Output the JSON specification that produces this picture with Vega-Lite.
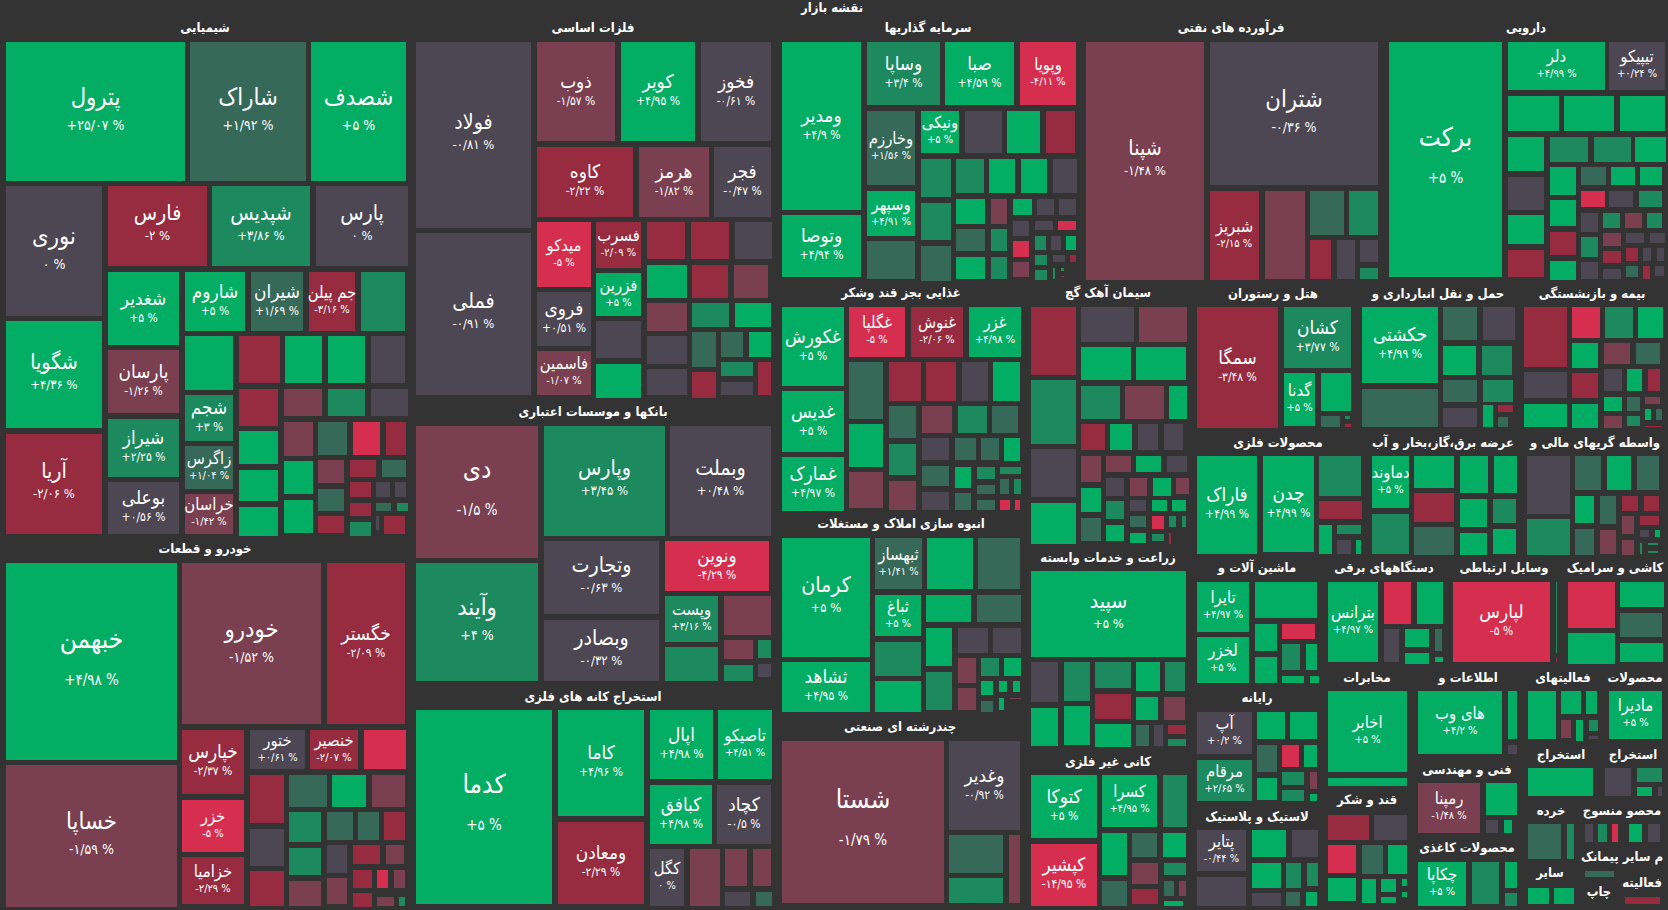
{"$schema":"https://vega.github.io/schema/vega-lite/v6.json","width":1668,"height":910,"padding":0,"autosize":{"type":"none"},"background":"#333333","config":{"view":{"stroke":null}},
"datasets":{"sectors":[
{"t":"نقشه بازار","x":832,"y":8},{"t":"شیمیایی","x":205,"y":28},{"t":"فلزات اساسی","x":593,"y":28},{"t":"سرمایه گذاریها","x":928,"y":28},{"t":"فرآورده های نفتی","x":1231,"y":28},{"t":"دارویی","x":1526,"y":28},
{"t":"غذایی بجز قند وشکر","x":901,"y":293},{"t":"سیمان آهک گچ","x":1108,"y":293},{"t":"هتل و رستوران","x":1273,"y":294},{"t":"حمل و نقل انبارداری و","x":1438,"y":294},{"t":"بیمه و بازنشستگی","x":1592,"y":294},
{"t":"بانکها و موسسات اعتباری","x":593,"y":412},{"t":"محصولات فلزی","x":1278,"y":443},{"t":"عرضه برق،گاز،بخار و آب","x":1443,"y":443},{"t":"واسطه گریهای مالی و","x":1595,"y":443},
{"t":"انبوه سازی املاک و مستغلات","x":901,"y":524},{"t":"خودرو و قطعات","x":205,"y":549},{"t":"زراعت و خدمات وابسته","x":1108,"y":558},{"t":"ماشین آلات و","x":1257,"y":568},{"t":"دستگاههای برقی","x":1384,"y":568},{"t":"وسایل ارتباطی","x":1504,"y":568},{"t":"کاشی و سرامیک","x":1615,"y":568},
{"t":"مخابرات","x":1367,"y":678},{"t":"اطلاعات و","x":1468,"y":678},{"t":"فعالیتهای","x":1563,"y":678},{"t":"محصولات","x":1635,"y":678},{"t":"استخراج کانه های فلزی","x":593,"y":697},{"t":"رایانه","x":1257,"y":698},{"t":"چندرشته ای صنعتی","x":900,"y":727},
{"t":"استخراج","x":1561,"y":755},{"t":"استخراج","x":1633,"y":755},{"t":"کانی غیر فلزی","x":1108,"y":762},{"t":"فنی و مهندسی","x":1467,"y":770},{"t":"قند و شکر","x":1367,"y":800},{"t":"خرده","x":1551,"y":811},{"t":"محصو منسوج","x":1622,"y":811},{"t":"لاستیک و پلاستیک","x":1257,"y":817},{"t":"محصولات کاغذی","x":1467,"y":848},{"t":"م سایر پیمانک","x":1622,"y":857},{"t":"سایر","x":1550,"y":873},{"t":"فعالیته","x":1642,"y":883},{"t":"چاپ","x":1599,"y":892}],
"tiles":[
{"x0":6,"x1":185,"y0":42,"y1":181,"chg":25.07,"sym":"پترول","pct":"+۲۵/۰۷ %","tier":"b"},{"x0":190,"x1":306,"y0":42,"y1":181,"chg":1.92,"sym":"شاراک","pct":"+۱/۹۲ %","tier":"b"},{"x0":311,"x1":406,"y0":42,"y1":181,"chg":5,"sym":"شصدف","pct":"+۵ %","tier":"b"},
{"x0":6,"x1":102,"y0":186,"y1":316,"chg":0,"sym":"نوری","pct":"۰ %","tier":"b"},{"x0":108,"x1":207,"y0":186,"y1":266,"chg":-2,"sym":"فارس","pct":"-۲ %","tier":"c"},{"x0":212,"x1":310,"y0":186,"y1":266,"chg":3.86,"sym":"شپدیس","pct":"+۳/۸۶ %","tier":"c"},{"x0":316,"x1":408,"y0":186,"y1":266,"chg":0,"sym":"پارس","pct":"۰ %","tier":"c"},
{"x0":108,"x1":179,"y0":272,"y1":345,"chg":5,"sym":"شغدیر","pct":"+۵ %","tier":"d"},{"x0":185,"x1":245,"y0":272,"y1":331,"chg":5,"sym":"شاروم","pct":"+۵ %","tier":"d"},{"x0":251,"x1":303,"y0":272,"y1":331,"chg":1.69,"sym":"شیران","pct":"+۱/۶۹ %","tier":"d"},{"x0":309,"x1":355,"y0":272,"y1":331,"chg":-3.16,"sym":"جم پیلن","pct":"-۳/۱۶ %","tier":"e"},{"x0":361,"x1":405,"y0":272,"y1":331,"chg":3},
{"x0":6,"x1":102,"y0":321,"y1":428,"chg":4.36,"sym":"شگویا","pct":"+۴/۳۶ %","tier":"c"},{"x0":6,"x1":102,"y0":434,"y1":534,"chg":-2.06,"sym":"آریا","pct":"-۲/۰۶ %","tier":"c"},{"x0":108,"x1":179,"y0":350,"y1":413,"chg":-1.26,"sym":"پارسان","pct":"-۱/۲۶ %","tier":"d"},{"x0":108,"x1":179,"y0":419,"y1":477,"chg":2.25,"sym":"شیراز","pct":"+۲/۲۵ %","tier":"d"},{"x0":108,"x1":179,"y0":482,"y1":534,"chg":0.56,"sym":"بوعلی","pct":"+۰/۵۶ %","tier":"d"},
{"x0":185,"x1":233,"y0":336,"y1":390,"chg":4.9},{"x0":185,"x1":233,"y0":395,"y1":441,"chg":3,"sym":"شجم","pct":"+۳ %","tier":"d"},{"x0":185,"x1":233,"y0":446,"y1":489,"chg":1.04,"sym":"زاگرس","pct":"+۱/۰۴ %","tier":"e"},{"x0":185,"x1":233,"y0":494,"y1":534,"chg":-1.42,"sym":"خراسان","pct":"-۱/۴۲ %","tier":"e"},
{"x0":239,"x1":280,"y0":336,"y1":383,"chg":-3},{"x0":285,"x1":322,"y0":336,"y1":383,"chg":4.9},{"x0":328,"x1":365,"y0":336,"y1":383,"chg":4.9},{"x0":371,"x1":405,"y0":336,"y1":383,"chg":0.2},{"x0":239,"x1":278,"y0":389,"y1":426,"chg":-3},{"x0":284,"x1":322,"y0":389,"y1":416,"chg":-1.5},{"x0":328,"x1":365,"y0":389,"y1":416,"chg":3},{"x0":371,"x1":408,"y0":389,"y1":416,"chg":0.2},{"x0":239,"x1":278,"y0":431,"y1":464,"chg":4.9},{"x0":239,"x1":278,"y0":470,"y1":501,"chg":4.9},{"x0":239,"x1":278,"y0":507,"y1":536,"chg":4.9},
{"x0":284,"x1":313,"y0":422,"y1":456,"chg":-1.5},{"x0":318,"x1":347,"y0":422,"y1":455,"chg":1.5},{"x0":353,"x1":380,"y0":422,"y1":455,"chg":-5},{"x0":386,"x1":406,"y0":422,"y1":455,"chg":-3},{"x0":284,"x1":313,"y0":461,"y1":494,"chg":4.9},{"x0":284,"x1":313,"y0":500,"y1":533,"chg":4.9},{"x0":318,"x1":344,"y0":460,"y1":483,"chg":-1.5},{"x0":318,"x1":344,"y0":489,"y1":511,"chg":1.5},{"x0":318,"x1":344,"y0":516,"y1":533,"chg":-3},{"x0":350,"x1":376,"y0":460,"y1":477,"chg":-3},{"x0":382,"x1":406,"y0":460,"y1":477,"chg":1.5},{"x0":350,"x1":371,"y0":482,"y1":497,"chg":-3},{"x0":376,"x1":390,"y0":482,"y1":497,"chg":0.2},{"x0":395,"x1":406,"y0":482,"y1":497,"chg":0.2},{"x0":350,"x1":371,"y0":503,"y1":516,"chg":-3},{"x0":376,"x1":391,"y0":503,"y1":511,"chg":1.5},{"x0":397,"x1":408,"y0":503,"y1":511,"chg":3},{"x0":376,"x1":379,"y0":516,"y1":530,"chg":0.2},{"x0":384,"x1":405,"y0":516,"y1":534,"chg":-3},{"x0":350,"x1":371,"y0":522,"y1":536,"chg":3},
{"x0":6,"x1":177,"y0":563,"y1":760,"chg":4.98,"sym":"خبهمن","pct":"+۴/۹۸ %","tier":"a"},{"x0":6,"x1":177,"y0":765,"y1":907,"chg":-1.59,"sym":"خساپا","pct":"-۱/۵۹ %","tier":"b"},{"x0":182,"x1":321,"y0":563,"y1":724,"chg":-1.52,"sym":"خودرو","pct":"-۱/۵۲ %","tier":"b"},{"x0":327,"x1":405,"y0":563,"y1":724,"chg":-2.09,"sym":"خگستر","pct":"-۲/۰۹ %","tier":"d"},{"x0":182,"x1":244,"y0":730,"y1":794,"chg":-2.37,"sym":"خپارس","pct":"-۲/۳۷ %","tier":"d"},{"x0":250,"x1":305,"y0":730,"y1":769,"chg":0.61,"sym":"ختور","pct":"+۰/۶۱ %","tier":"e"},{"x0":310,"x1":358,"y0":730,"y1":769,"chg":-2.07,"sym":"خنصیر","pct":"-۲/۰۷ %","tier":"e"},{"x0":364,"x1":406,"y0":730,"y1":769,"chg":-5},{"x0":182,"x1":244,"y0":800,"y1":852,"chg":-5,"sym":"خزر","pct":"-۵ %","tier":"e"},{"x0":182,"x1":244,"y0":857,"y1":904,"chg":-2.29,"sym":"خزامیا","pct":"-۲/۲۹ %","tier":"e"},
{"x0":250,"x1":284,"y0":775,"y1":823,"chg":-3},{"x0":289,"x1":327,"y0":775,"y1":807,"chg":1.5},{"x0":332,"x1":366,"y0":775,"y1":807,"chg":4.9},{"x0":372,"x1":405,"y0":775,"y1":807,"chg":-1.5},{"x0":250,"x1":284,"y0":829,"y1":866,"chg":0.2},{"x0":250,"x1":284,"y0":871,"y1":906,"chg":-3},{"x0":289,"x1":321,"y0":812,"y1":842,"chg":3},{"x0":327,"x1":353,"y0":812,"y1":840,"chg":1.5},{"x0":358,"x1":379,"y0":812,"y1":840,"chg":1.5},{"x0":384,"x1":405,"y0":812,"y1":840,"chg":-3},{"x0":289,"x1":321,"y0":848,"y1":875,"chg":3},{"x0":289,"x1":321,"y0":881,"y1":906,"chg":-1.5},{"x0":327,"x1":347,"y0":845,"y1":873,"chg":0.2},{"x0":327,"x1":347,"y0":878,"y1":904,"chg":-1.5},{"x0":353,"x1":380,"y0":845,"y1":864,"chg":-3},{"x0":386,"x1":404,"y0":845,"y1":864,"chg":-1.5},{"x0":353,"x1":372,"y0":870,"y1":888,"chg":-3},{"x0":377,"x1":388,"y0":870,"y1":888,"chg":-5},{"x0":394,"x1":405,"y0":870,"y1":888,"chg":-1.5},{"x0":353,"x1":372,"y0":893,"y1":907,"chg":-3},{"x0":377,"x1":394,"y0":897,"y1":906,"chg":-1.5},{"x0":399,"x1":405,"y0":897,"y1":906,"chg":3},
{"x0":416,"x1":531,"y0":42,"y1":228,"chg":-0.81,"sym":"فولاد","pct":"-۰/۸۱ %","tier":"c"},{"x0":416,"x1":531,"y0":233,"y1":395,"chg":-0.91,"sym":"فملی","pct":"-۰/۹۱ %","tier":"c"},{"x0":537,"x1":615,"y0":42,"y1":141,"chg":-1.57,"sym":"ذوب","pct":"-۱/۵۷ %","tier":"d"},{"x0":621,"x1":695,"y0":42,"y1":141,"chg":4.95,"sym":"کویر","pct":"+۴/۹۵ %","tier":"d"},{"x0":701,"x1":771,"y0":42,"y1":141,"chg":-0.61,"sym":"فخوز","pct":"-۰/۶۱ %","tier":"d"},{"x0":537,"x1":633,"y0":147,"y1":217,"chg":-2.22,"sym":"کاوه","pct":"-۲/۲۲ %","tier":"d"},{"x0":639,"x1":709,"y0":147,"y1":217,"chg":-1.82,"sym":"هرمز","pct":"-۱/۸۲ %","tier":"d"},{"x0":714,"x1":771,"y0":147,"y1":217,"chg":-0.47,"sym":"فجر","pct":"-۰/۴۷ %","tier":"d"},
{"x0":537,"x1":591,"y0":222,"y1":287,"chg":-5,"sym":"میدکو","pct":"-۵ %","tier":"e"},{"x0":537,"x1":591,"y0":292,"y1":346,"chg":0.51,"sym":"فروی","pct":"+۰/۵۱ %","tier":"d"},{"x0":537,"x1":591,"y0":351,"y1":395,"chg":-1.07,"sym":"فاسمین","pct":"-۱/۰۷ %","tier":"e"},{"x0":596,"x1":641,"y0":222,"y1":268,"chg":-2.09,"sym":"فسرب","pct":"-۲/۰۹ %","tier":"e"},{"x0":596,"x1":641,"y0":273,"y1":316,"chg":5,"sym":"فزرین","pct":"+۵ %","tier":"e"},{"x0":596,"x1":641,"y0":321,"y1":358,"chg":0.2},{"x0":596,"x1":641,"y0":364,"y1":398,"chg":4.9},
{"x0":647,"x1":685,"y0":222,"y1":259,"chg":-3},{"x0":691,"x1":729,"y0":222,"y1":259,"chg":-3},{"x0":735,"x1":772,"y0":222,"y1":259,"chg":0.2},{"x0":647,"x1":687,"y0":265,"y1":298,"chg":4.9},{"x0":692,"x1":728,"y0":265,"y1":298,"chg":-3},{"x0":734,"x1":768,"y0":265,"y1":298,"chg":-1.5},{"x0":647,"x1":687,"y0":303,"y1":331,"chg":-1.5},{"x0":647,"x1":687,"y0":336,"y1":364,"chg":0.2},{"x0":647,"x1":687,"y0":369,"y1":395,"chg":0.2},{"x0":692,"x1":729,"y0":303,"y1":327,"chg":3},{"x0":735,"x1":771,"y0":303,"y1":327,"chg":4.9},{"x0":692,"x1":716,"y0":332,"y1":367,"chg":1.5},{"x0":692,"x1":716,"y0":372,"y1":398,"chg":-3},{"x0":721,"x1":743,"y0":332,"y1":357,"chg":1.5},{"x0":749,"x1":771,"y0":332,"y1":357,"chg":4.9},{"x0":721,"x1":753,"y0":362,"y1":376,"chg":3},{"x0":721,"x1":753,"y0":382,"y1":395,"chg":0.2},{"x0":758,"x1":771,"y0":362,"y1":395,"chg":-3},
{"x0":416,"x1":538,"y0":426,"y1":558,"chg":-1.5,"sym":"دی","pct":"-۱/۵ %","tier":"a"},{"x0":416,"x1":538,"y0":563,"y1":681,"chg":4,"sym":"وآیند","pct":"+۴ %","tier":"b"},{"x0":544,"x1":665,"y0":426,"y1":536,"chg":3.45,"sym":"وپارس","pct":"+۳/۴۵ %","tier":"c"},{"x0":670,"x1":771,"y0":426,"y1":536,"chg":0.48,"sym":"وبملت","pct":"+۰/۴۸ %","tier":"c"},{"x0":544,"x1":659,"y0":541,"y1":614,"chg":-0.63,"sym":"وتجارت","pct":"-۰/۶۳ %","tier":"c"},{"x0":544,"x1":659,"y0":620,"y1":681,"chg":-0.32,"sym":"وبصادر","pct":"-۰/۳۲ %","tier":"c"},{"x0":665,"x1":769,"y0":541,"y1":591,"chg":-4.29,"sym":"ونوین","pct":"-۴/۲۹ %","tier":"d"},{"x0":665,"x1":718,"y0":596,"y1":642,"chg":3.16,"sym":"وپست","pct":"+۳/۱۶ %","tier":"e"},{"x0":665,"x1":718,"y0":647,"y1":681,"chg":3},{"x0":724,"x1":771,"y0":596,"y1":635,"chg":-1.5},{"x0":724,"x1":753,"y0":640,"y1":659,"chg":-1.5},{"x0":758,"x1":771,"y0":640,"y1":658,"chg":3},{"x0":724,"x1":753,"y0":665,"y1":681,"chg":3},{"x0":758,"x1":771,"y0":664,"y1":677,"chg":0.2},
{"x0":416,"x1":552,"y0":710,"y1":904,"chg":5,"sym":"کدما","pct":"+۵ %","tier":"a"},{"x0":558,"x1":644,"y0":710,"y1":816,"chg":4.96,"sym":"کاما","pct":"+۴/۹۶ %","tier":"d"},{"x0":558,"x1":644,"y0":822,"y1":904,"chg":-2.29,"sym":"ومعادن","pct":"-۲/۲۹ %","tier":"d"},{"x0":650,"x1":713,"y0":710,"y1":779,"chg":4.98,"sym":"اپال","pct":"+۴/۹۸ %","tier":"d"},{"x0":718,"x1":772,"y0":710,"y1":779,"chg":4.51,"sym":"تاصیکو","pct":"+۴/۵۱ %","tier":"e"},{"x0":650,"x1":712,"y0":785,"y1":844,"chg":4.98,"sym":"کبافق","pct":"+۴/۹۸ %","tier":"d"},{"x0":717,"x1":771,"y0":785,"y1":844,"chg":-0.5,"sym":"کچاد","pct":"-۰/۵ %","tier":"d"},{"x0":650,"x1":684,"y0":849,"y1":906,"chg":0,"sym":"کگل","pct":"۰ %","tier":"e"},{"x0":690,"x1":720,"y0":849,"y1":906,"chg":-1.5},{"x0":725,"x1":747,"y0":849,"y1":886,"chg":-1.5},{"x0":753,"x1":771,"y0":849,"y1":886,"chg":-1.5},{"x0":725,"x1":750,"y0":892,"y1":906,"chg":0.2},{"x0":756,"x1":772,"y0":892,"y1":906,"chg":1.5},
{"x0":782,"x1":861,"y0":42,"y1":210,"chg":4.9,"sym":"ومدیر","pct":"+۴/۹ %","tier":"d"},{"x0":782,"x1":861,"y0":215,"y1":277,"chg":4.94,"sym":"وتوصا","pct":"+۴/۹۴ %","tier":"d"},{"x0":867,"x1":940,"y0":42,"y1":105,"chg":3.4,"sym":"وساپا","pct":"+۳/۴ %","tier":"d"},{"x0":945,"x1":1014,"y0":42,"y1":105,"chg":4.59,"sym":"صبا","pct":"+۴/۵۹ %","tier":"d"},{"x0":1020,"x1":1076,"y0":42,"y1":105,"chg":-4.11,"sym":"وپویا","pct":"-۴/۱۱ %","tier":"e"},{"x0":867,"x1":915,"y0":111,"y1":185,"chg":1.56,"sym":"وخارزم","pct":"+۱/۵۶ %","tier":"e"},{"x0":867,"x1":915,"y0":191,"y1":236,"chg":4.91,"sym":"وسپهر","pct":"+۴/۹۱ %","tier":"e"},{"x0":867,"x1":915,"y0":241,"y1":279,"chg":1.5},{"x0":921,"x1":959,"y0":111,"y1":153,"chg":5,"sym":"ونیکی","pct":"+۵ %","tier":"e"},
{"x0":965,"x1":1002,"y0":111,"y1":153,"chg":0.2},{"x0":1007,"x1":1040,"y0":111,"y1":153,"chg":4.9},{"x0":1046,"x1":1075,"y0":111,"y1":153,"chg":-3},{"x0":921,"x1":951,"y0":159,"y1":197,"chg":3},{"x0":921,"x1":951,"y0":203,"y1":240,"chg":3},{"x0":921,"x1":951,"y0":246,"y1":281,"chg":1.5},{"x0":956,"x1":984,"y0":159,"y1":193,"chg":3},{"x0":989,"x1":1015,"y0":159,"y1":193,"chg":4.9},{"x0":1021,"x1":1047,"y0":159,"y1":193,"chg":4.9},{"x0":1053,"x1":1077,"y0":159,"y1":193,"chg":0.2},{"x0":956,"x1":985,"y0":199,"y1":224,"chg":4.9},{"x0":991,"x1":1007,"y0":199,"y1":224,"chg":-1.5},{"x0":1013,"x1":1032,"y0":199,"y1":215,"chg":4.9},{"x0":1037,"x1":1054,"y0":199,"y1":215,"chg":0.2},{"x0":1059,"x1":1076,"y0":199,"y1":215,"chg":0.2},{"x0":956,"x1":985,"y0":229,"y1":251,"chg":1.5},{"x0":991,"x1":1007,"y0":229,"y1":251,"chg":3},{"x0":956,"x1":985,"y0":257,"y1":279,"chg":4.9},{"x0":991,"x1":1007,"y0":257,"y1":279,"chg":3},{"x0":1013,"x1":1029,"y0":221,"y1":236,"chg":0.2},{"x0":1035,"x1":1053,"y0":221,"y1":230,"chg":0.2},{"x0":1058,"x1":1076,"y0":221,"y1":230,"chg":-5},{"x0":1013,"x1":1029,"y0":241,"y1":257,"chg":-5},{"x0":1013,"x1":1029,"y0":262,"y1":277,"chg":-1.5},{"x0":1035,"x1":1046,"y0":236,"y1":250,"chg":3},{"x0":1051,"x1":1061,"y0":236,"y1":250,"chg":0.2},{"x0":1066,"x1":1076,"y0":236,"y1":250,"chg":4.9},{"x0":1035,"x1":1047,"y0":255,"y1":265,"chg":3},{"x0":1053,"x1":1065,"y0":255,"y1":262,"chg":0.2},{"x0":1070,"x1":1076,"y0":255,"y1":262,"chg":-3},{"x0":1035,"x1":1047,"y0":270,"y1":280,"chg":3},{"x0":1053,"x1":1055,"y0":268,"y1":279,"chg":3},{"x0":1061,"x1":1064,"y0":268,"y1":271,"chg":3},{"x0":1061,"x1":1064,"y0":276,"y1":277,"chg":-3},
{"x0":782,"x1":844,"y0":307,"y1":386,"chg":5,"sym":"غکورش","pct":"+۵ %","tier":"d"},{"x0":782,"x1":844,"y0":391,"y1":452,"chg":5,"sym":"غدیس","pct":"+۵ %","tier":"d"},{"x0":782,"x1":844,"y0":457,"y1":511,"chg":4.97,"sym":"غمارک","pct":"+۴/۹۷ %","tier":"d"},{"x0":849,"x1":905,"y0":307,"y1":357,"chg":-5,"sym":"غگلپا","pct":"-۵ %","tier":"e"},{"x0":911,"x1":963,"y0":307,"y1":357,"chg":-2.06,"sym":"غنوش","pct":"-۲/۰۶ %","tier":"e"},{"x0":969,"x1":1021,"y0":307,"y1":357,"chg":4.98,"sym":"غزر","pct":"+۴/۹۸ %","tier":"e"},
{"x0":849,"x1":883,"y0":362,"y1":419,"chg":1.5},{"x0":849,"x1":883,"y0":424,"y1":467,"chg":4.9},{"x0":849,"x1":883,"y0":472,"y1":508,"chg":-1.5},{"x0":889,"x1":921,"y0":362,"y1":401,"chg":-3},{"x0":926,"x1":956,"y0":362,"y1":401,"chg":-3},{"x0":962,"x1":988,"y0":362,"y1":401,"chg":0.2},{"x0":993,"x1":1020,"y0":362,"y1":401,"chg":4.9},{"x0":889,"x1":916,"y0":406,"y1":438,"chg":1.5},{"x0":889,"x1":916,"y0":444,"y1":475,"chg":3},{"x0":889,"x1":916,"y0":481,"y1":510,"chg":-1.5},{"x0":922,"x1":952,"y0":406,"y1":433,"chg":-1.5},{"x0":958,"x1":987,"y0":406,"y1":433,"chg":3},{"x0":992,"x1":1018,"y0":406,"y1":433,"chg":1.5},{"x0":922,"x1":949,"y0":438,"y1":460,"chg":0.2},{"x0":955,"x1":976,"y0":438,"y1":460,"chg":1.5},{"x0":981,"x1":999,"y0":438,"y1":460,"chg":1.5},{"x0":1004,"x1":1020,"y0":438,"y1":461,"chg":4.9},{"x0":922,"x1":949,"y0":466,"y1":486,"chg":1.5},{"x0":922,"x1":949,"y0":492,"y1":510,"chg":0.2},{"x0":955,"x1":971,"y0":467,"y1":488,"chg":4.9},{"x0":955,"x1":971,"y0":493,"y1":510,"chg":1.5},{"x0":977,"x1":995,"y0":467,"y1":479,"chg":3},{"x0":1000,"x1":1021,"y0":467,"y1":474,"chg":3},{"x0":977,"x1":995,"y0":485,"y1":494,"chg":1.5},{"x0":1000,"x1":1009,"y0":479,"y1":494,"chg":1.5},{"x0":1014,"x1":1021,"y0":479,"y1":494,"chg":3},{"x0":977,"x1":995,"y0":500,"y1":510,"chg":1.5},{"x0":1000,"x1":1010,"y0":500,"y1":510,"chg":-5},{"x0":1015,"x1":1020,"y0":500,"y1":510,"chg":-5},
{"x0":1031,"x1":1076,"y0":307,"y1":375,"chg":-3},{"x0":1031,"x1":1076,"y0":380,"y1":444,"chg":3},{"x0":1031,"x1":1076,"y0":449,"y1":497,"chg":0.2},{"x0":1031,"x1":1076,"y0":503,"y1":544,"chg":4.9},{"x0":1081,"x1":1134,"y0":307,"y1":342,"chg":0.2},{"x0":1139,"x1":1187,"y0":307,"y1":342,"chg":-1.5},{"x0":1081,"x1":1131,"y0":347,"y1":380,"chg":4.9},{"x0":1136,"x1":1186,"y0":347,"y1":380,"chg":4.9},{"x0":1081,"x1":1120,"y0":386,"y1":419,"chg":3},{"x0":1125,"x1":1164,"y0":386,"y1":419,"chg":-1.5},{"x0":1169,"x1":1187,"y0":386,"y1":419,"chg":4.9},{"x0":1081,"x1":1105,"y0":424,"y1":450,"chg":-3},{"x0":1110,"x1":1132,"y0":424,"y1":450,"chg":4.9},{"x0":1138,"x1":1158,"y0":424,"y1":450,"chg":0.2},{"x0":1164,"x1":1183,"y0":424,"y1":450,"chg":0.2},{"x0":1081,"x1":1101,"y0":456,"y1":482,"chg":-1.5},{"x0":1106,"x1":1131,"y0":456,"y1":472,"chg":-1.5},{"x0":1136,"x1":1161,"y0":456,"y1":472,"chg":4.9},{"x0":1167,"x1":1187,"y0":456,"y1":472,"chg":0.2},{"x0":1081,"x1":1101,"y0":488,"y1":512,"chg":4.9},{"x0":1081,"x1":1101,"y0":518,"y1":541,"chg":1.5},{"x0":1106,"x1":1124,"y0":478,"y1":496,"chg":0.2},{"x0":1130,"x1":1147,"y0":478,"y1":496,"chg":-1.5},{"x0":1153,"x1":1171,"y0":478,"y1":496,"chg":4.9},{"x0":1176,"x1":1189,"y0":478,"y1":494,"chg":-1.5},{"x0":1106,"x1":1124,"y0":501,"y1":519,"chg":3},{"x0":1106,"x1":1124,"y0":525,"y1":541,"chg":4.9},{"x0":1130,"x1":1146,"y0":500,"y1":511,"chg":0.2},{"x0":1152,"x1":1167,"y0":500,"y1":511,"chg":4.9},{"x0":1172,"x1":1186,"y0":500,"y1":511,"chg":4.9},{"x0":1130,"x1":1146,"y0":516,"y1":527,"chg":1.5},{"x0":1152,"x1":1164,"y0":516,"y1":529,"chg":-5},{"x0":1169,"x1":1176,"y0":516,"y1":527,"chg":3},{"x0":1182,"x1":1186,"y0":516,"y1":527,"chg":3},{"x0":1130,"x1":1146,"y0":533,"y1":543,"chg":4.9},{"x0":1152,"x1":1164,"y0":534,"y1":541,"chg":3},{"x0":1169,"x1":1171,"y0":533,"y1":544,"chg":-3},
{"x0":1031,"x1":1186,"y0":571,"y1":657,"chg":5,"sym":"سپید","pct":"+۵ %","tier":"c"},{"x0":1031,"x1":1058,"y0":662,"y1":702,"chg":0.2},{"x0":1064,"x1":1090,"y0":662,"y1":701,"chg":3},{"x0":1095,"x1":1131,"y0":662,"y1":688,"chg":3},{"x0":1136,"x1":1160,"y0":662,"y1":691,"chg":4.9},{"x0":1165,"x1":1185,"y0":662,"y1":691,"chg":3},{"x0":1031,"x1":1058,"y0":708,"y1":746,"chg":4.9},{"x0":1064,"x1":1090,"y0":706,"y1":745,"chg":4.9},{"x0":1095,"x1":1131,"y0":694,"y1":719,"chg":-3},{"x0":1095,"x1":1131,"y0":724,"y1":747,"chg":4.9},{"x0":1136,"x1":1158,"y0":697,"y1":720,"chg":4.9},{"x0":1164,"x1":1185,"y0":697,"y1":720,"chg":-1.5},{"x0":1136,"x1":1149,"y0":725,"y1":746,"chg":1.5},{"x0":1154,"x1":1163,"y0":725,"y1":746,"chg":0.2},{"x0":1168,"x1":1186,"y0":725,"y1":734,"chg":-3},{"x0":1168,"x1":1186,"y0":739,"y1":746,"chg":3},
{"x0":782,"x1":870,"y0":538,"y1":657,"chg":5,"sym":"کرمان","pct":"+۵ %","tier":"c"},{"x0":875,"x1":922,"y0":538,"y1":589,"chg":1.41,"sym":"ثبهساز","pct":"+۱/۴۱ %","tier":"e"},{"x0":927,"x1":973,"y0":538,"y1":589,"chg":4.9},{"x0":978,"x1":1020,"y0":538,"y1":589,"chg":1.5},{"x0":875,"x1":921,"y0":595,"y1":636,"chg":5,"sym":"ثباغ","pct":"+۵ %","tier":"e"},{"x0":926,"x1":971,"y0":595,"y1":622,"chg":4.9},{"x0":977,"x1":1021,"y0":595,"y1":622,"chg":1.5},{"x0":782,"x1":870,"y0":662,"y1":712,"chg":4.95,"sym":"ثشاهد","pct":"+۴/۹۵ %","tier":"d"},{"x0":875,"x1":921,"y0":642,"y1":676,"chg":3},{"x0":875,"x1":921,"y0":681,"y1":712,"chg":4.9},{"x0":926,"x1":952,"y0":628,"y1":666,"chg":4.9},{"x0":926,"x1":952,"y0":672,"y1":710,"chg":3},{"x0":958,"x1":988,"y0":628,"y1":653,"chg":0.2},{"x0":993,"x1":1021,"y0":628,"y1":653,"chg":0.2},{"x0":958,"x1":976,"y0":658,"y1":683,"chg":-1.5},{"x0":958,"x1":976,"y0":688,"y1":710,"chg":-1.5},{"x0":981,"x1":999,"y0":658,"y1":676,"chg":3},{"x0":1004,"x1":1021,"y0":658,"y1":676,"chg":4.9},{"x0":981,"x1":993,"y0":681,"y1":695,"chg":4.9},{"x0":999,"x1":1007,"y0":681,"y1":692,"chg":4.9},{"x0":1013,"x1":1020,"y0":681,"y1":692,"chg":4.9},{"x0":981,"x1":993,"y0":701,"y1":712,"chg":1.5},{"x0":999,"x1":1004,"y0":698,"y1":710,"chg":4.9},{"x0":1010,"x1":1021,"y0":698,"y1":699,"chg":-1.5},
{"x0":782,"x1":944,"y0":741,"y1":903,"chg":-1.79,"sym":"شستا","pct":"-۱/۷۹ %","tier":"a"},{"x0":949,"x1":1020,"y0":741,"y1":830,"chg":-0.92,"sym":"وغدیر","pct":"-۰/۹۲ %","tier":"d"},{"x0":949,"x1":1003,"y0":835,"y1":873,"chg":1.5},{"x0":949,"x1":1003,"y0":878,"y1":903,"chg":3},{"x0":1009,"x1":1020,"y0":835,"y1":903,"chg":-1.5},
{"x0":1031,"x1":1097,"y0":775,"y1":838,"chg":5,"sym":"کتوکا","pct":"+۵ %","tier":"d"},{"x0":1031,"x1":1097,"y0":844,"y1":906,"chg":-14.95,"sym":"کپشیر","pct":"-۱۴/۹۵ %","tier":"d"},{"x0":1102,"x1":1157,"y0":775,"y1":827,"chg":4.95,"sym":"کسرا","pct":"+۴/۹۵ %","tier":"e"},{"x0":1163,"x1":1187,"y0":775,"y1":827,"chg":3},{"x0":1102,"x1":1127,"y0":833,"y1":875,"chg":4.9},{"x0":1132,"x1":1157,"y0":833,"y1":857,"chg":1.5},{"x0":1163,"x1":1186,"y0":833,"y1":857,"chg":4.9},{"x0":1132,"x1":1158,"y0":863,"y1":884,"chg":-1.5},{"x0":1164,"x1":1186,"y0":863,"y1":875,"chg":3},{"x0":1102,"x1":1127,"y0":881,"y1":906,"chg":1.5},{"x0":1132,"x1":1158,"y0":889,"y1":904,"chg":-3},{"x0":1164,"x1":1174,"y0":881,"y1":896,"chg":1.5},{"x0":1179,"x1":1186,"y0":881,"y1":896,"chg":-1.5},{"x0":1164,"x1":1183,"y0":901,"y1":906,"chg":4.9},
{"x0":1086,"x1":1204,"y0":42,"y1":280,"chg":-1.48,"sym":"شپنا","pct":"-۱/۴۸ %","tier":"c"},{"x0":1210,"x1":1378,"y0":42,"y1":185,"chg":-0.36,"sym":"شتران","pct":"-۰/۳۶ %","tier":"b"},{"x0":1210,"x1":1259,"y0":191,"y1":280,"chg":-2.15,"sym":"شبریز","pct":"-۲/۱۵ %","tier":"e"},{"x0":1265,"x1":1305,"y0":191,"y1":279,"chg":-1.5},{"x0":1310,"x1":1344,"y0":191,"y1":235,"chg":1.5},{"x0":1349,"x1":1378,"y0":191,"y1":235,"chg":3},{"x0":1310,"x1":1331,"y0":240,"y1":279,"chg":-3},{"x0":1337,"x1":1355,"y0":240,"y1":279,"chg":0.2},{"x0":1360,"x1":1378,"y0":240,"y1":262,"chg":0.2},{"x0":1360,"x1":1378,"y0":268,"y1":279,"chg":3},
{"x0":1389,"x1":1502,"y0":42,"y1":277,"chg":5,"sym":"برکت","pct":"+۵ %","tier":"a"},{"x0":1508,"x1":1605,"y0":42,"y1":90,"chg":4.99,"sym":"دلر","pct":"+۴/۹۹ %","tier":"e"},{"x0":1609,"x1":1665,"y0":42,"y1":90,"chg":0.24,"sym":"تیپیکو","pct":"+۰/۲۴ %","tier":"e"},{"x0":1508,"x1":1559,"y0":96,"y1":131,"chg":4.9},{"x0":1564,"x1":1614,"y0":96,"y1":131,"chg":4.9},{"x0":1620,"x1":1665,"y0":96,"y1":131,"chg":4.9},{"x0":1508,"x1":1544,"y0":137,"y1":171,"chg":4.9},{"x0":1508,"x1":1544,"y0":177,"y1":210,"chg":0.2},{"x0":1508,"x1":1544,"y0":215,"y1":244,"chg":4.9},{"x0":1508,"x1":1544,"y0":250,"y1":277,"chg":-3},{"x0":1550,"x1":1588,"y0":137,"y1":162,"chg":3},{"x0":1594,"x1":1631,"y0":137,"y1":162,"chg":3},{"x0":1635,"x1":1666,"y0":137,"y1":162,"chg":4.9},{"x0":1550,"x1":1576,"y0":167,"y1":195,"chg":4.9},{"x0":1550,"x1":1576,"y0":200,"y1":226,"chg":4.9},{"x0":1550,"x1":1576,"y0":232,"y1":255,"chg":-3},{"x0":1550,"x1":1576,"y0":261,"y1":280,"chg":4.9},{"x0":1581,"x1":1606,"y0":167,"y1":185,"chg":1.5},{"x0":1611,"x1":1635,"y0":167,"y1":185,"chg":4.9},{"x0":1640,"x1":1662,"y0":167,"y1":185,"chg":4.9},{"x0":1581,"x1":1605,"y0":191,"y1":207,"chg":-5},{"x0":1609,"x1":1633,"y0":191,"y1":207,"chg":0.2},{"x0":1639,"x1":1662,"y0":191,"y1":207,"chg":3},{"x0":1581,"x1":1598,"y0":213,"y1":232,"chg":0.2},{"x0":1603,"x1":1620,"y0":213,"y1":228,"chg":3},{"x0":1625,"x1":1642,"y0":213,"y1":228,"chg":-1.5},{"x0":1647,"x1":1662,"y0":213,"y1":228,"chg":3},{"x0":1581,"x1":1598,"y0":237,"y1":257,"chg":3},{"x0":1581,"x1":1598,"y0":262,"y1":279,"chg":0.2},{"x0":1603,"x1":1621,"y0":233,"y1":246,"chg":-1.5},{"x0":1626,"x1":1644,"y0":233,"y1":243,"chg":0.2},{"x0":1650,"x1":1665,"y0":233,"y1":243,"chg":0.2},{"x0":1603,"x1":1621,"y0":251,"y1":263,"chg":-3},{"x0":1626,"x1":1638,"y0":248,"y1":261,"chg":-3},{"x0":1643,"x1":1651,"y0":248,"y1":261,"chg":0.2},{"x0":1657,"x1":1664,"y0":248,"y1":261,"chg":0.2},{"x0":1603,"x1":1621,"y0":269,"y1":279,"chg":0.2},{"x0":1626,"x1":1638,"y0":266,"y1":277,"chg":1.5},{"x0":1643,"x1":1650,"y0":266,"y1":279,"chg":-3},{"x0":1655,"x1":1664,"y0":266,"y1":276,"chg":0.2},
{"x0":1197,"x1":1278,"y0":307,"y1":428,"chg":-3.48,"sym":"سمگا","pct":"-۳/۴۸ %","tier":"d"},{"x0":1284,"x1":1351,"y0":307,"y1":368,"chg":3.77,"sym":"کشان","pct":"+۳/۷۷ %","tier":"d"},{"x0":1284,"x1":1315,"y0":373,"y1":426,"chg":5,"sym":"گدنا","pct":"+۵ %","tier":"e"},{"x0":1321,"x1":1351,"y0":373,"y1":411,"chg":4.9},{"x0":1321,"x1":1340,"y0":416,"y1":427,"chg":1.5},{"x0":1345,"x1":1350,"y0":416,"y1":419,"chg":3},{"x0":1345,"x1":1351,"y0":424,"y1":427,"chg":-3},
{"x0":1362,"x1":1438,"y0":307,"y1":383,"chg":4.99,"sym":"حکشتی","pct":"+۴/۹۹ %","tier":"d"},{"x0":1362,"x1":1438,"y0":389,"y1":427,"chg":1.5},{"x0":1443,"x1":1477,"y0":307,"y1":340,"chg":1.5},{"x0":1483,"x1":1515,"y0":307,"y1":340,"chg":0.2},{"x0":1443,"x1":1476,"y0":346,"y1":375,"chg":4.9},{"x0":1482,"x1":1512,"y0":346,"y1":375,"chg":3},{"x0":1443,"x1":1477,"y0":380,"y1":402,"chg":1.5},{"x0":1483,"x1":1513,"y0":380,"y1":402,"chg":3},{"x0":1443,"x1":1477,"y0":408,"y1":427,"chg":0.2},{"x0":1483,"x1":1493,"y0":405,"y1":427,"chg":4.9},{"x0":1498,"x1":1513,"y0":405,"y1":412,"chg":-3},{"x0":1498,"x1":1508,"y0":417,"y1":427,"chg":1.5},
{"x0":1524,"x1":1567,"y0":307,"y1":367,"chg":-3},{"x0":1572,"x1":1600,"y0":307,"y1":338,"chg":-5},{"x0":1605,"x1":1633,"y0":307,"y1":338,"chg":3},{"x0":1638,"x1":1663,"y0":307,"y1":338,"chg":4.9},{"x0":1572,"x1":1598,"y0":343,"y1":368,"chg":4.9},{"x0":1604,"x1":1630,"y0":343,"y1":364,"chg":-1.5},{"x0":1636,"x1":1660,"y0":343,"y1":364,"chg":1.5},{"x0":1524,"x1":1567,"y0":372,"y1":398,"chg":0.2},{"x0":1524,"x1":1567,"y0":404,"y1":427,"chg":4.9},{"x0":1572,"x1":1598,"y0":373,"y1":398,"chg":-3},{"x0":1572,"x1":1598,"y0":404,"y1":428,"chg":4.9},{"x0":1604,"x1":1622,"y0":369,"y1":391,"chg":0.2},{"x0":1627,"x1":1642,"y0":369,"y1":391,"chg":4.9},{"x0":1648,"x1":1660,"y0":369,"y1":391,"chg":-3},{"x0":1604,"x1":1622,"y0":397,"y1":411,"chg":4.9},{"x0":1627,"x1":1640,"y0":397,"y1":411,"chg":1.5},{"x0":1645,"x1":1660,"y0":397,"y1":404,"chg":-1.5},{"x0":1604,"x1":1622,"y0":416,"y1":428,"chg":-1.5},{"x0":1627,"x1":1640,"y0":416,"y1":426,"chg":3},{"x0":1645,"x1":1651,"y0":409,"y1":420,"chg":4.9},{"x0":1656,"x1":1662,"y0":409,"y1":420,"chg":1.5},{"x0":1645,"x1":1662,"y0":426,"y1":427,"chg":-3},
{"x0":1197,"x1":1257,"y0":456,"y1":554,"chg":4.99,"sym":"فاراک","pct":"+۴/۹۹ %","tier":"d"},{"x0":1263,"x1":1314,"y0":456,"y1":552,"chg":4.99,"sym":"چدن","pct":"+۴/۹۹ %","tier":"d"},{"x0":1319,"x1":1361,"y0":456,"y1":496,"chg":3},{"x0":1319,"x1":1362,"y0":501,"y1":519,"chg":-3},{"x0":1319,"x1":1332,"y0":525,"y1":554,"chg":4.9},{"x0":1337,"x1":1361,"y0":525,"y1":534,"chg":3},{"x0":1337,"x1":1351,"y0":540,"y1":554,"chg":0.2},{"x0":1356,"x1":1361,"y0":540,"y1":554,"chg":4.9},
{"x0":1372,"x1":1409,"y0":456,"y1":508,"chg":5,"sym":"دماوند","pct":"+۵ %","tier":"e"},{"x0":1372,"x1":1409,"y0":514,"y1":554,"chg":3},{"x0":1414,"x1":1454,"y0":456,"y1":488,"chg":4.9},{"x0":1414,"x1":1454,"y0":493,"y1":522,"chg":-3},{"x0":1414,"x1":1454,"y0":527,"y1":555,"chg":1.5},{"x0":1460,"x1":1488,"y0":456,"y1":493,"chg":4.9},{"x0":1494,"x1":1517,"y0":456,"y1":493,"chg":4.9},{"x0":1460,"x1":1487,"y0":499,"y1":527,"chg":4.9},{"x0":1493,"x1":1516,"y0":499,"y1":523,"chg":3},{"x0":1460,"x1":1487,"y0":533,"y1":555,"chg":4.9},{"x0":1493,"x1":1516,"y0":529,"y1":554,"chg":4.9},
{"x0":1527,"x1":1570,"y0":456,"y1":514,"chg":0.2},{"x0":1527,"x1":1570,"y0":519,"y1":555,"chg":3},{"x0":1575,"x1":1601,"y0":456,"y1":490,"chg":1.5},{"x0":1607,"x1":1631,"y0":456,"y1":490,"chg":4.9},{"x0":1637,"x1":1659,"y0":456,"y1":490,"chg":1.5},{"x0":1575,"x1":1594,"y0":496,"y1":523,"chg":4.9},{"x0":1600,"x1":1616,"y0":496,"y1":524,"chg":1.5},{"x0":1575,"x1":1594,"y0":529,"y1":555,"chg":1.5},{"x0":1600,"x1":1616,"y0":530,"y1":554,"chg":-1.5},{"x0":1622,"x1":1638,"y0":496,"y1":511,"chg":-3},{"x0":1644,"x1":1659,"y0":496,"y1":511,"chg":-3},{"x0":1622,"x1":1634,"y0":516,"y1":534,"chg":-1.5},{"x0":1640,"x1":1659,"y0":516,"y1":525,"chg":-3},{"x0":1640,"x1":1649,"y0":530,"y1":537,"chg":0.2},{"x0":1655,"x1":1660,"y0":530,"y1":537,"chg":4.9},{"x0":1622,"x1":1634,"y0":540,"y1":555,"chg":-1.5},{"x0":1640,"x1":1642,"y0":543,"y1":554,"chg":3},{"x0":1648,"x1":1658,"y0":543,"y1":545,"chg":3},{"x0":1648,"x1":1658,"y0":551,"y1":553,"chg":3},
{"x0":1197,"x1":1249,"y0":582,"y1":632,"chg":4.97,"sym":"تایرا","pct":"+۴/۹۷ %","tier":"e"},{"x0":1197,"x1":1249,"y0":637,"y1":683,"chg":5,"sym":"لخزر","pct":"+۵ %","tier":"e"},{"x0":1255,"x1":1317,"y0":582,"y1":618,"chg":4.9},{"x0":1255,"x1":1277,"y0":624,"y1":651,"chg":4.9},{"x0":1255,"x1":1277,"y0":657,"y1":683,"chg":4.9},{"x0":1282,"x1":1315,"y0":624,"y1":639,"chg":-5},{"x0":1282,"x1":1300,"y0":644,"y1":670,"chg":3},{"x0":1306,"x1":1317,"y0":644,"y1":670,"chg":4.9},{"x0":1282,"x1":1304,"y0":676,"y1":683,"chg":4.9},{"x0":1310,"x1":1319,"y0":676,"y1":683,"chg":4.9},
{"x0":1328,"x1":1378,"y0":582,"y1":662,"chg":4.97,"sym":"بترانس","pct":"+۴/۹۷ %","tier":"e"},{"x0":1384,"x1":1411,"y0":582,"y1":624,"chg":-5},{"x0":1417,"x1":1443,"y0":582,"y1":624,"chg":4.9},{"x0":1384,"x1":1399,"y0":629,"y1":662,"chg":0.2},{"x0":1405,"x1":1429,"y0":629,"y1":647,"chg":4.9},{"x0":1405,"x1":1429,"y0":653,"y1":664,"chg":4.9},{"x0":1435,"x1":1442,"y0":629,"y1":651,"chg":1.5},{"x0":1435,"x1":1443,"y0":657,"y1":662,"chg":4.9},
{"x0":1453,"x1":1550,"y0":582,"y1":662,"chg":-5,"sym":"لپارس","pct":"-۵ %","tier":"d"},{"x0":1556,"x1":1557,"y0":582,"y1":653,"chg":3},{"x0":1556,"x1":1557,"y0":658,"y1":662,"chg":-3},
{"x0":1568,"x1":1615,"y0":582,"y1":628,"chg":-5},{"x0":1568,"x1":1615,"y0":633,"y1":664,"chg":4.9},{"x0":1620,"x1":1664,"y0":582,"y1":607,"chg":4.9},{"x0":1620,"x1":1662,"y0":613,"y1":637,"chg":1.5},{"x0":1620,"x1":1663,"y0":643,"y1":662,"chg":4.9},
{"x0":1197,"x1":1252,"y0":712,"y1":754,"chg":0.2,"sym":"آپ","pct":"+۰/۲ %","tier":"e"},{"x0":1197,"x1":1252,"y0":760,"y1":801,"chg":2.65,"sym":"مرقام","pct":"+۲/۶۵ %","tier":"e"},{"x0":1257,"x1":1285,"y0":712,"y1":739,"chg":4.9},{"x0":1290,"x1":1317,"y0":712,"y1":739,"chg":4.9},{"x0":1257,"x1":1277,"y0":745,"y1":772,"chg":1.5},{"x0":1282,"x1":1299,"y0":745,"y1":767,"chg":-5},{"x0":1304,"x1":1317,"y0":745,"y1":767,"chg":4.9},{"x0":1282,"x1":1304,"y0":772,"y1":785,"chg":3},{"x0":1310,"x1":1317,"y0":772,"y1":789,"chg":-1.5},{"x0":1257,"x1":1277,"y0":778,"y1":800,"chg":4.9},{"x0":1282,"x1":1304,"y0":790,"y1":801,"chg":3},{"x0":1310,"x1":1317,"y0":794,"y1":801,"chg":4.9},
{"x0":1328,"x1":1407,"y0":691,"y1":772,"chg":5,"sym":"اخابر","pct":"+۵ %","tier":"e"},{"x0":1328,"x1":1407,"y0":778,"y1":786,"chg":4.9},{"x0":1418,"x1":1502,"y0":691,"y1":754,"chg":4.2,"sym":"های وب","pct":"+۴/۲ %","tier":"e"},{"x0":1508,"x1":1517,"y0":691,"y1":739,"chg":4.9},{"x0":1508,"x1":1517,"y0":745,"y1":754,"chg":0.2},
{"x0":1528,"x1":1556,"y0":691,"y1":739,"chg":4.9},{"x0":1561,"x1":1581,"y0":691,"y1":714,"chg":4.9},{"x0":1586,"x1":1597,"y0":691,"y1":714,"chg":4.9},{"x0":1561,"x1":1571,"y0":720,"y1":738,"chg":-1.5},{"x0":1576,"x1":1583,"y0":720,"y1":741,"chg":4.9},{"x0":1589,"x1":1598,"y0":720,"y1":731,"chg":3},{"x0":1589,"x1":1598,"y0":736,"y1":739,"chg":0.2},{"x0":1609,"x1":1662,"y0":691,"y1":739,"chg":5,"sym":"مادیرا","pct":"+۵ %","tier":"e"},
{"x0":1528,"x1":1593,"y0":768,"y1":796,"chg":4.9},{"x0":1605,"x1":1631,"y0":768,"y1":796,"chg":0.2},{"x0":1637,"x1":1662,"y0":768,"y1":782,"chg":3},{"x0":1637,"x1":1652,"y0":787,"y1":796,"chg":4.9},{"x0":1658,"x1":1662,"y0":787,"y1":796,"chg":0.2},
{"x0":1418,"x1":1480,"y0":783,"y1":833,"chg":-1.48,"sym":"رمپنا","pct":"-۱/۴۸ %","tier":"e"},{"x0":1486,"x1":1517,"y0":783,"y1":815,"chg":4.9},{"x0":1486,"x1":1498,"y0":820,"y1":833,"chg":0.2},{"x0":1504,"x1":1512,"y0":820,"y1":833,"chg":4.9},
{"x0":1328,"x1":1369,"y0":815,"y1":840,"chg":-3},{"x0":1374,"x1":1407,"y0":815,"y1":840,"chg":0.2},{"x0":1328,"x1":1356,"y0":845,"y1":873,"chg":-5},{"x0":1362,"x1":1383,"y0":845,"y1":874,"chg":1.5},{"x0":1388,"x1":1407,"y0":845,"y1":874,"chg":4.9},{"x0":1328,"x1":1356,"y0":878,"y1":901,"chg":4.9},{"x0":1362,"x1":1376,"y0":879,"y1":903,"chg":4.9},{"x0":1381,"x1":1396,"y0":879,"y1":892,"chg":4.9},{"x0":1402,"x1":1407,"y0":879,"y1":886,"chg":4.9},{"x0":1402,"x1":1407,"y0":892,"y1":897,"chg":4.9},{"x0":1381,"x1":1396,"y0":897,"y1":903,"chg":4.9},
{"x0":1197,"x1":1246,"y0":830,"y1":871,"chg":-0.44,"sym":"پتایر","pct":"-۰/۴۴ %","tier":"e"},{"x0":1197,"x1":1246,"y0":877,"y1":906,"chg":0.2},{"x0":1252,"x1":1286,"y0":830,"y1":857,"chg":4.9},{"x0":1292,"x1":1318,"y0":830,"y1":857,"chg":0.2},{"x0":1252,"x1":1281,"y0":863,"y1":888,"chg":4.9},{"x0":1286,"x1":1301,"y0":863,"y1":888,"chg":3},{"x0":1307,"x1":1318,"y0":863,"y1":886,"chg":3},{"x0":1252,"x1":1281,"y0":893,"y1":906,"chg":0.2},{"x0":1286,"x1":1300,"y0":892,"y1":906,"chg":1.5},{"x0":1306,"x1":1317,"y0":892,"y1":906,"chg":4.9},
{"x0":1418,"x1":1466,"y0":862,"y1":906,"chg":5,"sym":"چکاپا","pct":"+۵ %","tier":"e"},{"x0":1472,"x1":1499,"y0":862,"y1":904,"chg":3},{"x0":1505,"x1":1517,"y0":862,"y1":888,"chg":4.9},{"x0":1505,"x1":1517,"y0":893,"y1":906,"chg":3},
{"x0":1528,"x1":1561,"y0":824,"y1":859,"chg":1.5},{"x0":1567,"x1":1574,"y0":824,"y1":859,"chg":3},{"x0":1528,"x1":1549,"y0":888,"y1":904,"chg":4.9},{"x0":1554,"x1":1574,"y0":888,"y1":904,"chg":4.9},{"x0":1585,"x1":1593,"y0":824,"y1":842,"chg":0.2},{"x0":1598,"x1":1607,"y0":824,"y1":842,"chg":3},{"x0":1612,"x1":1618,"y0":824,"y1":842,"chg":-5},{"x0":1629,"x1":1642,"y0":824,"y1":842,"chg":4.9},{"x0":1648,"x1":1660,"y0":824,"y1":842,"chg":0.2},{"x0":1585,"x1":1614,"y0":871,"y1":877,"chg":1.5},{"x0":1625,"x1":1660,"y0":897,"y1":904,"chg":-3}
]},
"layer":[
{"data":{"name":"tiles"},"mark":{"type":"rect"},"encoding":{
"x":{"field":"x0","type":"quantitative","axis":null,"scale":{"domain":[0,1668],"nice":false,"zero":false}},"x2":{"field":"x1"},
"y":{"field":"y0","type":"quantitative","axis":null,"scale":{"domain":[910,0],"nice":false,"zero":false}},"y2":{"field":"y1"},
"color":{"field":"chg","type":"quantitative","legend":null,"scale":{"type":"threshold","domain":[-4,-1.99,-1,1,2,4.01],"range":["#D62E4E","#972C41","#7A3F50","#4D4653","#366958","#1C8A5E","#03AE64"]}}}},
{"data":{"name":"tiles"},"transform":[{"filter":"datum.sym"},{"calculate":"(datum.x0+datum.x1)/2","as":"cx"},{"calculate":"(datum.y0+datum.y1)/2+{a:-22,b:-14,c:-12,d:-10,e:-9}[datum.tier]","as":"ny"}],
"mark":{"type":"text","color":"#ffffff","align":"center","baseline":"middle","font":"DejaVu Sans Condensed, DejaVu Sans"},"encoding":{
"x":{"field":"cx","type":"quantitative","axis":null},"y":{"field":"ny","type":"quantitative","axis":null},"text":{"field":"sym"},
"size":{"field":"tier","type":"ordinal","legend":null,"scale":{"domain":["a","b","c","d","e"],"range":[26,16.5,12.5,10.5,9.5]}}}},
{"data":{"name":"tiles"},"transform":[{"filter":"datum.sym"},{"calculate":"(datum.x0+datum.x1)/2","as":"cx"},{"calculate":"(datum.y0+datum.y1)/2+{a:18,b:14,c:10,d:9,e:8}[datum.tier]","as":"py"}],
"mark":{"type":"text","color":"#ffffff","align":"center","baseline":"middle","font":"DejaVu Sans Condensed, DejaVu Sans"},"encoding":{
"x":{"field":"cx","type":"quantitative","axis":null},"y":{"field":"py","type":"quantitative","axis":null},"text":{"field":"pct"},
"size":{"field":"tier","type":"ordinal","legend":null,"scale":{"domain":["a","b","c","d","e"],"range":[15,11,9,8.5,8]}}}},
{"data":{"name":"sectors"},"mark":{"type":"text","color":"#ffffff","align":"center","baseline":"middle","fontSize":13,"fontWeight":"bold","font":"DejaVu Sans Condensed, DejaVu Sans"},"encoding":{
"x":{"field":"x","type":"quantitative","axis":null},"y":{"field":"y","type":"quantitative","axis":null},"text":{"field":"t"}}}
],
"resolve":{"scale":{"size":"independent"}}}
